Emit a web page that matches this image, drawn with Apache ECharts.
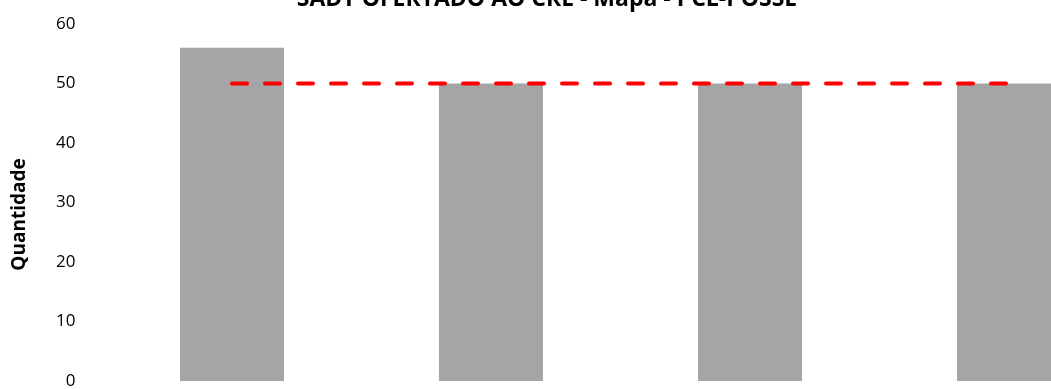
<!DOCTYPE html>
<html>
<head>
<meta charset="utf-8">
<script src="https://cdn.jsdelivr.net/npm/echarts@6/dist/echarts.min.js"></script>
<style>html,body{margin:0;padding:0;background:#fff;}#c{width:1051px;height:389px;}</style>
</head>
<body>
<div id="c"></div>
<script>
const categories = ['1', '2', '3', '4'];
const ofertado = [56, 50, 50, 50];
const meta = [50, 50, 50, 50];
const yTicks = [0, 10, 20, 30, 40, 50, 60];

const FONT = '"Open Sans", sans-serif';
const chart = echarts.init(document.getElementById('c'), null, {renderer: 'canvas'});
chart.setOption({
  animation: false,
  backgroundColor: '#ffffff',
  title: {
    text: 'SADT OFERTADO AO CRE - Mapa - PCL-POSSE',
    left: 542, textAlign: 'center', top: -17,
    textStyle: {fontFamily: FONT, fontWeight: 'bold', fontSize: 23, color: '#000'}
  },
  grid: {left: 102.5, width: 1036, top: 24, bottom: 8, containLabel: false, outerBoundsMode: 'none'},
  xAxis: {
    type: 'category', data: categories,
    axisLine: {show: false}, axisTick: {show: false}, axisLabel: {show: false}
  },
  yAxis: {
    type: 'value', min: yTicks[0], max: yTicks[yTicks.length - 1], interval: 10,
    name: 'Quantidade', nameLocation: 'middle', nameGap: 73, nameRotate: 90,
    nameTextStyle: {fontFamily: FONT, fontWeight: 'bold', fontSize: 19, color: '#000', padding: [0, 24, 0, 0]},
    axisLine: {show: false}, axisTick: {show: false}, splitLine: {show: false},
    axisLabel: {margin: 27, fontFamily: FONT, fontSize: 17, color: '#000'}
  },
  series: [
    {type: 'bar', data: ofertado, barWidth: 104, itemStyle: {color: '#A5A5A5'}},
    {type: 'line', data: meta, symbol: 'none',
     lineStyle: {color: '#FF0000', width: 4, type: [15, 18], cap: 'round'}}
  ]
});
</script>
</body>
</html>
